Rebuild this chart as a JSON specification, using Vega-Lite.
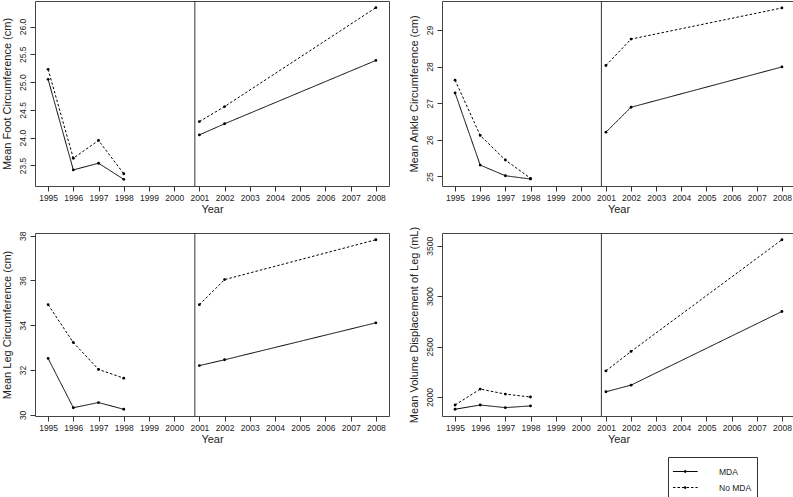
{
  "$schema": "https://vega.github.io/schema/vega-lite/v6.json",
  "background": "white",
  "padding": {"left": 0, "top": 0, "right": 0, "bottom": 0},
  "bounds": "flush",
  "columns": 2,
  "spacing": {"row": 47, "column": 53},
  "config": {
    "view": {"stroke": "#444", "strokeWidth": 1},
    "font": "Liberation Sans",
    "axis": {
      "domain": false, "grid": false, "tickColor": "#333", "tickSize": 5, "tickWidth": 1,
      "labelFont": "Liberation Sans", "labelFontSize": 8.5, "labelColor": "#222",
      "titleFont": "Liberation Sans", "titleFontSize": 11, "titleFontWeight": "normal", "titleColor": "#222"
    },
    "axisX": {"labelPadding": 2, "titlePadding": 2},
    "axisY": {"labelAngle": -90, "labelAlign": "center", "labelBaseline": "bottom", "labelPadding": 3, "titlePadding": 6},
    "legend": {"labelFont": "Liberation Sans", "labelFontSize": 8.5, "labelColor": "#222"}
  },
  "datasets": {
    "foot": [
      {"year": 1995, "group": "MDA", "period": "a", "value": 25.05},
      {"year": 1996, "group": "MDA", "period": "a", "value": 23.42},
      {"year": 1997, "group": "MDA", "period": "a", "value": 23.54},
      {"year": 1998, "group": "MDA", "period": "a", "value": 23.25},
      {"year": 2001, "group": "MDA", "period": "b", "value": 24.05},
      {"year": 2002, "group": "MDA", "period": "b", "value": 24.25},
      {"year": 2008, "group": "MDA", "period": "b", "value": 25.39},
      {"year": 1995, "group": "No MDA", "period": "a", "value": 25.23},
      {"year": 1996, "group": "No MDA", "period": "a", "value": 23.63},
      {"year": 1997, "group": "No MDA", "period": "a", "value": 23.95},
      {"year": 1998, "group": "No MDA", "period": "a", "value": 23.35},
      {"year": 2001, "group": "No MDA", "period": "b", "value": 24.29},
      {"year": 2002, "group": "No MDA", "period": "b", "value": 24.56},
      {"year": 2008, "group": "No MDA", "period": "b", "value": 26.34}
    ],
    "ankle": [
      {"year": 1995, "group": "MDA", "period": "a", "value": 27.28},
      {"year": 1996, "group": "MDA", "period": "a", "value": 25.31},
      {"year": 1997, "group": "MDA", "period": "a", "value": 25.02},
      {"year": 1998, "group": "MDA", "period": "a", "value": 24.93},
      {"year": 2001, "group": "MDA", "period": "b", "value": 26.21},
      {"year": 2002, "group": "MDA", "period": "b", "value": 26.89},
      {"year": 2008, "group": "MDA", "period": "b", "value": 27.99},
      {"year": 1995, "group": "No MDA", "period": "a", "value": 27.63},
      {"year": 1996, "group": "No MDA", "period": "a", "value": 26.12},
      {"year": 1997, "group": "No MDA", "period": "a", "value": 25.45},
      {"year": 1998, "group": "No MDA", "period": "a", "value": 24.95},
      {"year": 2001, "group": "No MDA", "period": "b", "value": 28.03},
      {"year": 2002, "group": "No MDA", "period": "b", "value": 28.75},
      {"year": 2008, "group": "No MDA", "period": "b", "value": 29.6}
    ],
    "leg": [
      {"year": 1995, "group": "MDA", "period": "a", "value": 32.52},
      {"year": 1996, "group": "MDA", "period": "a", "value": 30.32},
      {"year": 1997, "group": "MDA", "period": "a", "value": 30.55},
      {"year": 1998, "group": "MDA", "period": "a", "value": 30.25},
      {"year": 2001, "group": "MDA", "period": "b", "value": 32.2},
      {"year": 2002, "group": "MDA", "period": "b", "value": 32.46},
      {"year": 2008, "group": "MDA", "period": "b", "value": 34.11},
      {"year": 1995, "group": "No MDA", "period": "a", "value": 34.92},
      {"year": 1996, "group": "No MDA", "period": "a", "value": 33.23},
      {"year": 1997, "group": "No MDA", "period": "a", "value": 32.03},
      {"year": 1998, "group": "No MDA", "period": "a", "value": 31.64},
      {"year": 2001, "group": "No MDA", "period": "b", "value": 34.92},
      {"year": 2002, "group": "No MDA", "period": "b", "value": 36.04},
      {"year": 2008, "group": "No MDA", "period": "b", "value": 37.82}
    ],
    "volume": [
      {"year": 1995, "group": "MDA", "period": "a", "value": 1879},
      {"year": 1996, "group": "MDA", "period": "a", "value": 1921},
      {"year": 1997, "group": "MDA", "period": "a", "value": 1895},
      {"year": 1998, "group": "MDA", "period": "a", "value": 1912},
      {"year": 2001, "group": "MDA", "period": "b", "value": 2052},
      {"year": 2002, "group": "MDA", "period": "b", "value": 2118},
      {"year": 2008, "group": "MDA", "period": "b", "value": 2848},
      {"year": 1995, "group": "No MDA", "period": "a", "value": 1921},
      {"year": 1996, "group": "No MDA", "period": "a", "value": 2079},
      {"year": 1997, "group": "No MDA", "period": "a", "value": 2029},
      {"year": 1998, "group": "No MDA", "period": "a", "value": 2000},
      {"year": 2001, "group": "No MDA", "period": "b", "value": 2259},
      {"year": 2002, "group": "No MDA", "period": "b", "value": 2452},
      {"year": 2008, "group": "No MDA", "period": "b", "value": 3559}
    ],
    "cut": [{"cut": 2000.82}]
  },
  "concat": [
    {
      "width": 354, "height": 185,
      "data": {"name": "foot"},
      "encoding": {
        "x": {"field": "year", "type": "quantitative", "title": "Year", "scale": {"domain": [1994.48, 2008.52], "nice": false, "zero": false}, "axis": {"values": [1995,1996,1997,1998,1999,2000,2001,2002,2003,2004,2005,2006,2007,2008], "format": "d"}},
        "y": {"field": "value", "type": "quantitative", "title": "Mean Foot Circumference (cm)", "scale": {"domain": [23.13, 26.46], "nice": false, "zero": false}, "axis": {"values": [23.5, 24, 24.5, 25, 25.5, 26], "format": ".1f"}}
      },
      "layer": [
        {"mark": {"type": "line", "color": "black", "strokeWidth": 1},
         "encoding": {"strokeDash": {"field": "group", "type": "nominal", "scale": {"domain": ["MDA", "No MDA"], "range": [[1, 0], [2.5, 2]]}, "legend": {"title": null, "orient": "none", "legendX": 633, "legendY": 456, "strokeColor": "#333", "padding": 5, "rowPadding": 2, "symbolType": "M-1.1,0H1.75M0.2,0A0.12,0.12,0,1,0,0.44,0A0.12,0.12,0,1,0,0.2,0", "symbolSize": 300, "symbolStrokeColor": "black", "symbolFillColor": "black", "symbolStrokeWidth": 1, "labelOffset": 27, "labelExpr": "datum.label + '\u00a0\u00a0\u00a0\u00a0\u00a0\u00a0\u00a0\u00a0'"}},
                      "detail": {"field": "period", "type": "nominal"}}},
        {"mark": {"type": "point", "filled": true, "color": "black", "size": 8, "opacity": 1}},
        {"data": {"name": "cut"}, "mark": {"type": "rule", "color": "#333", "strokeWidth": 1}, "encoding": {"x": {"field": "cut", "type": "quantitative"}, "y": null}}
      ]
    },
    {
      "width": 353, "height": 185,
      "data": {"name": "ankle"},
      "encoding": {
        "x": {"field": "year", "type": "quantitative", "title": "Year", "scale": {"domain": [1994.48, 2008.52], "nice": false, "zero": false}, "axis": {"values": [1995,1996,1997,1998,1999,2000,2001,2002,2003,2004,2005,2006,2007,2008], "format": "d"}},
        "y": {"field": "value", "type": "quantitative", "title": "Mean Ankle Circumference (cm)", "scale": {"domain": [24.74, 29.79], "nice": false, "zero": false}, "axis": {"values": [25, 26, 27, 28, 29], "format": "d"}}
      },
      "layer": [
        {"mark": {"type": "line", "color": "black", "strokeWidth": 1},
         "encoding": {"strokeDash": {"field": "group", "type": "nominal", "scale": {"domain": ["MDA", "No MDA"], "range": [[1, 0], [2.5, 2]]}},
                      "detail": {"field": "period", "type": "nominal"}}},
        {"mark": {"type": "point", "filled": true, "color": "black", "size": 8, "opacity": 1}},
        {"data": {"name": "cut"}, "mark": {"type": "rule", "color": "#333", "strokeWidth": 1}, "encoding": {"x": {"field": "cut", "type": "quantitative"}, "y": null}}
      ]
    },
    {
      "width": 354, "height": 183,
      "data": {"name": "leg"},
      "encoding": {
        "x": {"field": "year", "type": "quantitative", "title": "Year", "scale": {"domain": [1994.48, 2008.52], "nice": false, "zero": false}, "axis": {"values": [1995,1996,1997,1998,1999,2000,2001,2002,2003,2004,2005,2006,2007,2008], "format": "d"}},
        "y": {"field": "value", "type": "quantitative", "title": "Mean Leg Circumference (cm)", "scale": {"domain": [29.95, 38.12], "nice": false, "zero": false}, "axis": {"values": [30, 32, 34, 36, 38], "format": "d"}}
      },
      "layer": [
        {"mark": {"type": "line", "color": "black", "strokeWidth": 1},
         "encoding": {"strokeDash": {"field": "group", "type": "nominal", "scale": {"domain": ["MDA", "No MDA"], "range": [[1, 0], [2.5, 2]]}},
                      "detail": {"field": "period", "type": "nominal"}}},
        {"mark": {"type": "point", "filled": true, "color": "black", "size": 8, "opacity": 1}},
        {"data": {"name": "cut"}, "mark": {"type": "rule", "color": "#333", "strokeWidth": 1}, "encoding": {"x": {"field": "cut", "type": "quantitative"}, "y": null}}
      ]
    },
    {
      "width": 353, "height": 183,
      "data": {"name": "volume"},
      "encoding": {
        "x": {"field": "year", "type": "quantitative", "title": "Year", "scale": {"domain": [1994.48, 2008.52], "nice": false, "zero": false}, "axis": {"values": [1995,1996,1997,1998,1999,2000,2001,2002,2003,2004,2005,2006,2007,2008], "format": "d"}},
        "y": {"field": "value", "type": "quantitative", "title": "Mean Volume Displacement of Leg (mL)", "scale": {"domain": [1812, 3626], "nice": false, "zero": false}, "axis": {"values": [2000, 2500, 3000, 3500], "format": "d"}}
      },
      "layer": [
        {"mark": {"type": "line", "color": "black", "strokeWidth": 1},
         "encoding": {"strokeDash": {"field": "group", "type": "nominal", "scale": {"domain": ["MDA", "No MDA"], "range": [[1, 0], [2.5, 2]]}},
                      "detail": {"field": "period", "type": "nominal"}}},
        {"mark": {"type": "point", "filled": true, "color": "black", "size": 8, "opacity": 1}},
        {"data": {"name": "cut"}, "mark": {"type": "rule", "color": "#333", "strokeWidth": 1}, "encoding": {"x": {"field": "cut", "type": "quantitative"}, "y": null}}
      ]
    }
  ]
}
